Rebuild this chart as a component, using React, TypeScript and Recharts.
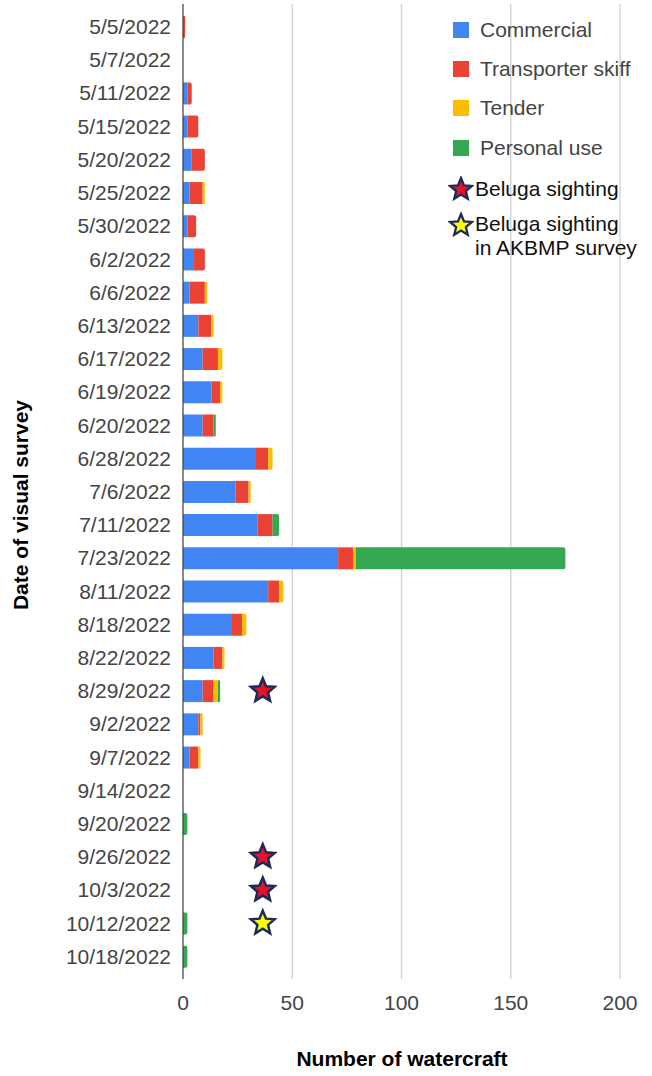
import React from 'react';
import { ComposedChart, Bar, Line, XAxis, YAxis, CartesianGrid, Rectangle } from 'recharts';

const surveyDates = [
  '5/5/2022', '5/7/2022', '5/11/2022', '5/15/2022', '5/20/2022', '5/25/2022', '5/30/2022',
  '6/2/2022', '6/6/2022', '6/13/2022', '6/17/2022', '6/19/2022', '6/20/2022', '6/28/2022',
  '7/6/2022', '7/11/2022', '7/23/2022', '8/11/2022', '8/18/2022', '8/22/2022', '8/29/2022',
  '9/2/2022', '9/7/2022', '9/14/2022', '9/20/2022', '9/26/2022', '10/3/2022', '10/12/2022',
  '10/18/2022',
];

const commercial = [0, 0, 2, 2, 4, 3, 2, 5, 3, 7, 9, 13, 9, 33, 24, 34, 71, 39, 22, 14, 9, 7, 3, 0, 0, 0, 0, 0, 0];
const transporterSkiff = [1, 0, 2, 5, 6, 6, 4, 5, 7, 6, 7, 4, 5, 6, 6, 7, 7, 5, 5, 4, 5, 1, 4, 0, 0, 0, 0, 0, 0];
const tender = [0, 0, 0, 0, 0, 1, 0, 0, 1, 1, 2, 1, 0, 2, 1, 0, 1, 2, 2, 1, 2, 1, 1, 0, 0, 0, 0, 0, 0];
const personalUse = [0, 0, 0, 0, 0, 0, 0, 0, 0, 0, 0, 0, 1, 0, 0, 3, 96, 0, 0, 0, 1, 0, 0, 0, 2, 0, 0, 2, 2];

// marker position for days with a beluga sighting
const belugaSighting = [null, null, null, null, null, null, null, null, null, null, null, null, null, null,
  null, null, null, null, null, null, 36.5, null, null, null, null, 36.5, 36.5, null, null];
const belugaAkbmp = [null, null, null, null, null, null, null, null, null, null, null, null, null, null,
  null, null, null, null, null, null, null, null, null, null, null, null, null, 36.5, null];

const xTicks = [0, 50, 100, 150, 200];

const seriesKeys = ['commercial', 'transporter', 'tender', 'personal'];
const seriesNames = ['Commercial', 'Transporter skiff', 'Tender', 'Personal use'];
const seriesColors = ['#4285f4', '#ea4335', '#fbbc04', '#34a853'];

const data = surveyDates.map((date, i) => ({
  date,
  commercial: commercial[i],
  transporter: transporterSkiff[i],
  tender: tender[i],
  personal: personalUse[i],
  sighting: belugaSighting[i],
  akbmp: belugaAkbmp[i],
}));

const FONT = '"Liberation Sans", Arial, Helvetica, sans-serif';
const STAR_STROKE = '#1c2a58';

const starPoints = (cx: number, cy: number, R: number, r: number) => {
  const pts: string[] = [];
  for (let k = 0; k < 10; k++) {
    const rad = k % 2 === 0 ? R : r;
    const a = -Math.PI / 2 + (k * Math.PI) / 5;
    pts.push(`${cx + rad * Math.cos(a)},${cy + rad * Math.sin(a)}`);
  }
  return pts.join(' ');
};

// the last non-empty segment of a row gets rounded right corners
const lastKey = (row: any) => {
  for (let k = seriesKeys.length - 1; k >= 0; k--) {
    if (row[seriesKeys[k]] > 0) return seriesKeys[k];
  }
  return null;
};

const makeShape = (key: string) => (props: any) => {
  const { x, y, width, height, fill, payload } = props;
  const rounded = payload && lastKey(payload) === key;
  return <Rectangle x={x} y={y} width={width} height={height} fill={fill} radius={rounded ? [0, 2, 2, 0] : 0} />;
};

const makeStar = (fill: string) => (props: any) => {
  const { cx, cy, index, value } = props;
  if (cx == null || cy == null || value == null) return <g key={`star-${index}`} />;
  return (
    <polygon
      key={`star-${index}`}
      points={starPoints(cx, cy, 12.5, 5.6)}
      fill={fill}
      stroke={STAR_STROKE}
      strokeWidth={2.5}
    />
  );
};

const LegendSquare = ({ color }: { color: string }) => (
  <div style={{ width: 16, height: 16, background: color, marginRight: 11, flexShrink: 0 }} />
);

const LegendStar = ({ fill }: { fill: string }) => (
  <svg width={26} height={26} style={{ marginRight: 1, marginLeft: -5, flexShrink: 0 }}>
    <polygon points={starPoints(13, 13.5, 11.5, 5.1)} fill={fill} stroke={STAR_STROKE} strokeWidth={2.3} />
  </svg>
);

const ChartLegend = () => {
  const rowTops = [30, 69, 108, 148];
  return (
    <div style={{ position: 'absolute', left: 453, top: 0, fontFamily: FONT, fontSize: 21 }}>
      {seriesNames.map((name, i) => (
        <div
          key={name}
          style={{ position: 'absolute', top: rowTops[i] - 12, left: 0, height: 24, display: 'flex', alignItems: 'center', whiteSpace: 'nowrap', color: '#444' }}
        >
          <LegendSquare color={seriesColors[i]} />
          <span>{name}</span>
        </div>
      ))}
      <div style={{ position: 'absolute', top: 177, left: 0, height: 24, display: 'flex', alignItems: 'center', whiteSpace: 'nowrap', color: '#111' }}>
        <LegendStar fill="#e8112d" />
        <span>Beluga sighting</span>
      </div>
      <div style={{ position: 'absolute', top: 212, left: 0, display: 'flex', alignItems: 'flex-start', whiteSpace: 'nowrap', color: '#111', lineHeight: '24px' }}>
        <LegendStar fill="#ffff00" />
        <span>Beluga sighting<br />in AKBMP survey</span>
      </div>
    </div>
  );
};

export default function App() {
  return (
    <div style={{ position: 'absolute', left: 0, top: 0, width: 652, height: 1076, background: '#fff', fontFamily: FONT }}>
      <ComposedChart
        width={652}
        height={1076}
        data={data}
        layout="vertical"
        margin={{ top: 4, right: 32, bottom: 0, left: 0 }}
        barSize={22}
      >
        <CartesianGrid horizontal={false} stroke="#d0d0d0" strokeWidth={1.3} />
        <XAxis
          type="number"
          domain={[0, 200]}
          ticks={xTicks}
          height={97}
          axisLine={false}
          tickLine={false}
          tickSize={0}
          tickMargin={16}
          tick={{ fill: '#444', fontSize: 21 }}
          label={{
            content: () => (
              <text x={402} y={1066} textAnchor="middle" fontSize={21} fontWeight="bold" fill="#000">
                Number of watercraft
              </text>
            ),
          }}
        />
        <YAxis
          type="category"
          dataKey="date"
          width={183}
          interval={0}
          padding={{ top: 6, bottom: 6 }}
          axisLine={{ stroke: '#333', strokeWidth: 1 }}
          tickLine={false}
          tickSize={0}
          tickMargin={12}
          tick={{ fill: '#444', fontSize: 21 }}
          label={{
            content: () => (
              <text
                x={28}
                y={505}
                textAnchor="middle"
                fontSize={21}
                fontWeight="bold"
                fill="#000"
                transform="rotate(-90 28 505)"
              >
                Date of visual survey
              </text>
            ),
          }}
        />
        {seriesKeys.map((key, i) => (
          <Bar
            key={key}
            dataKey={key}
            name={seriesNames[i]}
            stackId="craft"
            fill={seriesColors[i]}
            shape={makeShape(key)}
            isAnimationActive={false}
          />
        ))}
        <Line
          dataKey="sighting"
          stroke="none"
          dot={makeStar('#e8112d')}
          activeDot={false}
          legendType="none"
          isAnimationActive={false}
        />
        <Line
          dataKey="akbmp"
          stroke="none"
          dot={makeStar('#ffff00')}
          activeDot={false}
          legendType="none"
          isAnimationActive={false}
        />
      </ComposedChart>
      <ChartLegend />
    </div>
  );
}
